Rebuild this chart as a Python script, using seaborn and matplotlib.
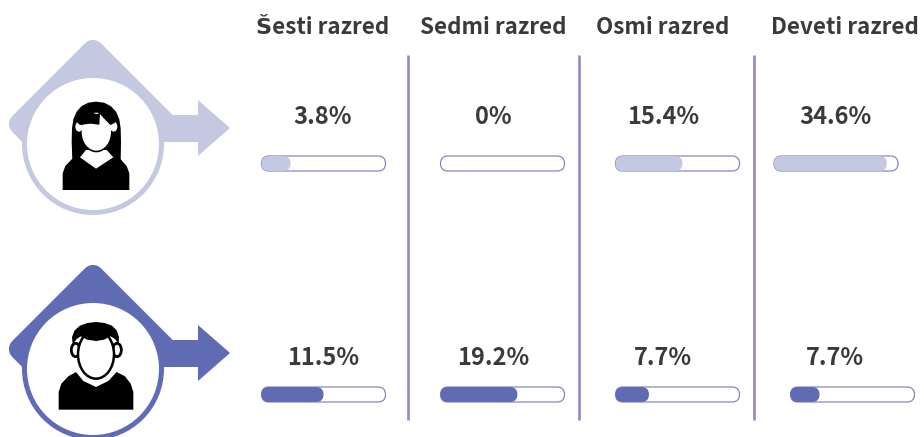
import matplotlib
matplotlib.use("Agg")
import matplotlib.pyplot as plt
from matplotlib.patches import Circle, Ellipse, FancyBboxPatch, Polygon
import seaborn as sns

grades = ["Šesti razred", "Sedmi razred", "Osmi razred", "Deveti razred"]
girlLabels = ["3.8%", "0%", "15.4%", "34.6%"]
boyLabels = ["11.5%", "19.2%", "7.7%", "7.7%"]
# how far each bar is filled in the picture (not the same scale as the labels)
girlFill = [0.234, 0.0, 0.54, 0.91]
boyFill = [0.50, 0.62, 0.27, 0.234]

W, H = 924, 437
LIGHT = "#c5c8e1"
DARK = "#5f6bb2"
TRACK = "#7f80c4"
RULE = "#8b8cc6"
INK = "#3a3a3a"

sns.set_theme(style="white")
plt.rcParams["font.family"] = ["Noto Sans CJK SC", "DejaVu Sans"]

fig = plt.figure(figsize=(W / 100, H / 100), dpi=100, facecolor="white")
canvas = fig.add_axes([0, 0, 1, 1])
canvas.set_xlim(0, W)
canvas.set_ylim(H, 0)
canvas.axis("off")


def badge(dy, color):
    # rounded diamond behind the circle, arrow to the right
    canvas.add_patch(Polygon([(93, 51 + dy), (20, 124 + dy), (40, 144 + dy), (165, 123 + dy)],
                             closed=True, fc=color, ec=color, lw=16, joinstyle="round"))
    canvas.add_patch(Polygon([(150, 115 + dy), (198, 115 + dy), (198, 100 + dy), (230, 128 + dy),
                              (198, 156 + dy), (198, 142 + dy), (150, 142 + dy)],
                             closed=True, fc=color, ec="none"))
    canvas.add_patch(Circle((93, 144 + dy), 71, fc=color, ec="none"))
    canvas.add_patch(Circle((93, 144 + dy), 66, fc="white", ec="none"))


def shape(points, y0, fc="black", ec="none", lw=0):
    pts = [(x / 3, y0 + y / 3) for x, y in points]
    canvas.add_patch(Polygon(pts, fc=fc, ec=ec, lw=lw, joinstyle="round"))


def oval(cx, cy, rx, ry, y0, fc="white", ec="none", lw=0):
    canvas.add_patch(Ellipse((cx / 3, y0 + cy / 3), 2 * rx / 3, 2 * ry / 3, fc=fc, ec=ec, lw=lw))


def girl(y0):
    hair = [(217, 392), (215, 335), (216, 295), (220, 268), (230, 245), (245, 228), (265, 218), (288, 215),
            (312, 218), (332, 228), (348, 245), (358, 268), (362, 295), (363, 335), (362, 392)]
    body = [(188, 480), (188, 430), (196, 408), (215, 388), (240, 372), (340, 372), (362, 388),
            (380, 408), (388, 430), (388, 480)]
    collar = [(240, 382), (258, 360), (320, 360), (340, 382), (288, 416)]
    fringe = [(232, 262), (250, 250), (275, 248), (290, 252), (330, 240), (350, 262), (345, 278), (332, 285),
              (318, 272), (300, 252), (298, 284), (270, 281), (240, 285), (232, 278)]
    shape(hair, y0)
    shape(body, y0)
    shape(collar, y0, "white")
    oval(289, 305, 47, 62, y0, "black")
    oval(289, 305, 44, 57, y0)
    oval(237, 290, 11, 15, y0)
    oval(341, 290, 11, 15, y0)
    shape(fringe, y0)


def boy(y0):
    body = [(176, 458), (176, 405), (184, 380), (205, 358), (228, 345), (250, 372), (288, 390), (325, 372),
            (350, 345), (375, 358), (392, 380), (400, 405), (400, 458)]
    hair = [(218, 262), (216, 240), (224, 220), (240, 206), (262, 198), (288, 195), (314, 198), (336, 206),
            (350, 220), (357, 240), (356, 262), (345, 246), (332, 238), (312, 248), (288, 252), (262, 248),
            (242, 238), (230, 246)]
    oval(227, 279, 13, 20, y0, "white", "black", 2)
    oval(351, 279, 13, 20, y0, "white", "black", 2)
    shape(body, y0)
    oval(288, 292, 54, 73, y0, "white", "black", 1.8)
    shape(hair, y0)


badge(0, LIGHT)
badge(225, DARK)
girl(30)
boy(257)

for x in [408, 579, 754]:
    canvas.plot([x, x], [55, 420], color=RULE, lw=1.9, solid_capstyle="butt")

headerX = [323, 493, 663, 845]
labelX = [323, 493, 663, 835]
for x, name in zip(headerX, grades):
    canvas.text(x, 27, name, ha="center", va="center", fontsize=16.1, fontweight="bold", color=INK)
for x, a, b in zip(labelX, girlLabels, boyLabels):
    canvas.text(x, 117, a, ha="center", va="center", fontsize=17, fontweight="bold", color=INK)
    canvas.text(x, 358, b, ha="center", va="center", fontsize=17, fontweight="bold", color=INK)


def rounded(ax, x, w, fc, ec, lw, zorder):
    box = FancyBboxPatch((x, -0.5), w, 1, boxstyle=f"round,pad=0,rounding_size={7.5 / 124}",
                         mutation_aspect=0.5 / (7.5 / 124), fc=fc, ec=ec, lw=lw,
                         clip_on=False, zorder=zorder)
    ax.add_patch(box)


def progress(left, top, value, color):
    ax = fig.add_axes([left / W, 1 - (top + 15) / H, 124 / W, 15 / H])
    ax.patch.set_alpha(0)
    rounded(ax, 0, 1, "white", TRACK, 0.85, 1)
    sns.barplot(x=[value], y=["fill"], orient="h", color=color, saturation=1, width=1, ax=ax)
    # seaborn bars are square, swap them for pill shapes of the same size
    for bar in list(ax.patches):
        if isinstance(bar, FancyBboxPatch):
            continue
        w = bar.get_width()
        bar.remove()
        if w > 0:
            rounded(ax, 0, w, color, "none", 0, 2)
    ax.set_xlim(0, 1)
    ax.set_ylim(0.5, -0.5)
    ax.axis("off")


girlLeft = [261.5, 440.5, 615.5, 774]
boyLeft = [261.5, 440.5, 615.5, 790.5]
for left, v in zip(girlLeft, girlFill):
    progress(left, 156, v, LIGHT)
for left, v in zip(boyLeft, boyFill):
    progress(left, 387, v, DARK)

fig.savefig("out.png", dpi=100)
